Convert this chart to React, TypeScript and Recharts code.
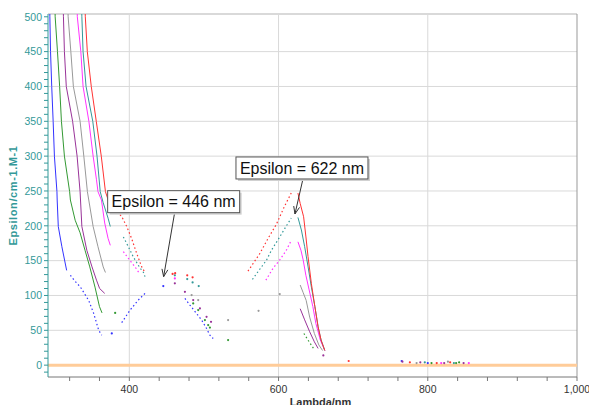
import React from 'react';
import { ComposedChart, Line, Scatter, XAxis, YAxis, ReferenceLine, ReferenceDot } from 'recharts';

type Pt = [number, number];

const FONT = '"Liberation Sans", Arial, sans-serif';
const TEAL_AXIS = '#339999';

// axis ticks
const xTicks = [320, 360, 400, 440, 480, 520, 560, 600, 640, 680, 720, 760, 800, 840, 880, 920, 960, 1000];
const xLabels = [400, 600, 800, 1000];
const yTicks = Array.from({ length: 52 }, (_, i) => -10 + i * 10);
const gridX = [400, 600, 800];
const gridY = [50, 100, 150, 200, 250, 300, 350, 400, 450];

// red
const redSolid: Pt[][] = [
  [[340, 540], [341, 500], [343.7, 450], [349, 400], [355.7, 350], [362.4, 300], [368, 249], [372, 236], [378, 226]],
  [[626, 247], [629, 232], [633.6, 213], [636.7, 184], [639.5, 156], [644, 117], [648.7, 84], [653, 55], [657, 36], [662, 21]],
];
const redDashed: Pt[][] = [
  [[387.5, 216], [390, 213], [396.5, 199], [403, 182], [410, 160], [416.6, 141], [421, 133]],
  [[559, 135], [566, 146], [574.8, 160], [586, 182], [597, 202], [608, 228], [617, 247]],
];
const redDots: Pt[] = [[458, 131], [461.4, 132], [477.6, 129], [484.8, 126], [694, 6], [776, 4], [812, 3], [830, 4]];

// teal
const tealSolid: Pt[][] = [
  [[335.5, 540], [336.4, 500], [338, 450], [342, 400], [351, 350], [356.7, 300], [361, 249], [365, 233], [371.5, 211], [374.5, 199]],
  [[626, 212], [630.6, 194], [635, 170], [639.6, 141], [644, 112], [648.7, 84], [653, 55], [657, 36], [662, 21]],
];
const tealDashed: Pt[][] = [
  [[392, 184], [398.7, 170], [405, 156], [414, 140], [419, 133], [421, 127]],
  [[565, 123], [571, 132], [584, 151], [590.5, 165], [601.6, 184], [610.5, 200], [617, 211]],
];
const tealDots: Pt[] = [[461, 129], [477.6, 123.6], [484.8, 118.8], [493, 113.5], [796, 4], [835, 3]];

// magenta
const magentaSolid: Pt[][] = [
  [[329.5, 540], [330.3, 500], [335, 450], [338, 400], [345.8, 350], [351.5, 300], [356, 266], [358, 249], [362.6, 237], [367, 204], [371.5, 182], [374.5, 172]],
  [[626, 177], [630, 165], [633, 151], [636.6, 129], [641, 108], [646, 84], [650, 60], [656, 36], [662, 21]],
];
const magentaDashed: Pt[][] = [
  [[392, 163], [401, 150], [407.7, 141], [414, 131]],
  [[583, 122], [592.6, 139], [601.6, 151], [610.5, 165], [617, 179]],
];
const magentaDots: Pt[] = [[461, 124.5], [818, 3], [855, 3]];

// gray
const graySolid: Pt[][] = [
  [[317, 540], [318, 500], [321.6, 450], [325, 400], [334, 350], [339, 300], [343.8, 249], [351.5, 199], [358, 170], [365, 141], [368, 133]],
  [[629, 115], [633, 104], [637, 93], [641.7, 69], [648, 45.5], [654, 29], [659, 21]],
];
const grayDots: Pt[] = [[483.5, 100.6], [492.3, 93.4], [532.4, 64.7], [573.2, 78], [601.6, 102], [785, 3], [827, 5]];

// purple
const purpleSolid: Pt[][] = [
  [[310.5, 540], [311.7, 500], [313, 450], [315.5, 400], [324, 350], [330, 300], [334, 249], [336.4, 199], [343, 165], [350, 141], [356, 122], [360.2, 110], [367, 103]],
  [[629, 81], [635, 65], [641.7, 48], [648, 33.5], [653, 24]],
];
const purpleDots: Pt[] = [[461, 117.4], [474.5, 105.3], [485.6, 93.4], [494.6, 81.4], [503.5, 69.4], [509.5, 62.2], [660, 14], [766, 5], [790, 4], [822, 3], [848, 3]];

// green
const greenSolid: Pt[][] = [
  [[300, 540], [300.6, 500], [303.7, 450], [306.6, 400], [309, 350], [313, 300], [320, 249], [321, 237], [327.4, 208], [334, 190], [340.6, 165], [347, 141], [354, 112], [360, 84], [363.4, 75]],
];
const greenDashed: Pt[][] = [[[634, 45.5], [639.5, 36], [644, 28.7], [648.4, 21.5]]];
const greenDots: Pt[] = [[381, 75], [485.6, 88.6], [492.3, 79], [501.3, 64.7], [505.7, 57.5], [508, 54], [532.4, 36], [805, 3], [838, 3], [842, 4]];

// blue
const blueSolid: Pt[][] = [
  [[293, 540], [293.5, 500], [294.4, 450], [296, 400], [297.9, 350], [299.6, 300], [303, 249], [303.3, 237], [304.8, 199], [309.6, 170], [316, 136]],
];
const blueDashed: Pt[][] = [
  [[321, 129], [326, 122], [334.5, 112], [345.5, 93], [352, 75], [359, 50], [363, 43]],
  [[389.8, 61], [401, 79], [412, 93.4], [421, 103]],
  [[474.5, 95.8], [481.2, 86.2], [490.2, 74], [496.9, 64.7], [503.5, 52.7], [508, 43], [512.4, 38.3]],
];
const blueDots: Pt[] = [[376.5, 45.5], [445.5, 113.5], [765, 6], [800, 3]];

const series = [
  { name: 'blue', color: '#3333ff', solid: blueSolid, dashed: blueDashed, dots: blueDots },
  { name: 'green', color: '#339933', solid: greenSolid, dashed: greenDashed, dots: greenDots },
  { name: 'purple', color: '#993399', solid: purpleSolid, dashed: [] as Pt[][], dots: purpleDots },
  { name: 'gray', color: '#999999', solid: graySolid, dashed: [] as Pt[][], dots: grayDots },
  { name: 'magenta', color: '#ff33ff', solid: magentaSolid, dashed: magentaDashed, dots: magentaDots },
  { name: 'teal', color: '#339999', solid: tealSolid, dashed: tealDashed, dots: tealDots },
  { name: 'red', color: '#ff3333', solid: redSolid, dashed: redDashed, dots: redDots },
];

const annotations = [
  { x: 446, y: 127, text: 'Epsilon = 446 nm', boxDx: 10, rise: 64 },
  { x: 622, y: 217, text: 'Epsilon = 622 nm', boxDx: 7, rise: 35 },
];

const rows = (pts: Pt[]) => pts.map(([x, y]) => ({ x, y }));

function Callout(props: any) {
  const { cx, cy, text, boxDx, rise } = props;
  const w = 132;
  const h = 22;
  const bx = cx + boxDx - w / 2;
  const by = cy - rise - h;
  const sx = cx + boxDx + 1;
  const sy = cy - rise;
  const ang = Math.atan2(cy - sy, cx - sx);
  const L = 8;
  const a = 0.38;
  const h1x = cx - L * Math.cos(ang - a);
  const h1y = cy - L * Math.sin(ang - a);
  const h2x = cx - L * Math.cos(ang + a);
  const h2y = cy - L * Math.sin(ang + a);
  return (
    <g>
      <line x1={sx} y1={sy} x2={cx} y2={cy} stroke="#333" strokeWidth={1} />
      <polyline points={`${h1x},${h1y} ${cx},${cy} ${h2x},${h2y}`} fill="none" stroke="#333" strokeWidth={1} />
      <rect x={bx + 2} y={by + 2} width={w} height={h} fill="#d0d0d0" />
      <rect x={bx} y={by} width={w} height={h} fill="#ffffff" stroke="#555" strokeWidth={1} />
      <text x={bx + w / 2} y={by + h / 2 + 5.6} textAnchor="middle" fontFamily={FONT} fontSize={16} fill="#111">
        {text}
      </text>
    </g>
  );
}

export default function App() {
  return (
    <div style={{ position: 'absolute', left: 0, top: 0, width: 589, height: 405, background: '#fff', overflow: 'hidden' }}>
      <ComposedChart width={589} height={405} margin={{ top: 14, right: 12, bottom: 8, left: 8 }}>
        <XAxis
          type="number"
          dataKey="x"
          domain={[291, 1000]}
          allowDataOverflow
          ticks={xTicks}
          interval={0}
          height={20}
          tickSize={4}
          tickMargin={5}
          tickFormatter={(v: number) => (xLabels.includes(v) ? v.toLocaleString('en-US') : '')}
          tick={{ fontSize: 10.5, fill: '#333', fontFamily: FONT }}
          axisLine={{ stroke: '#777' }}
          tickLine={{ stroke: '#777' }}
          label={{
            content: (p: any) => (
              <text x={p.viewBox.x + p.viewBox.width / 2 + 8} y={406} textAnchor="middle" fontFamily={FONT} fontSize={11} fontWeight="bold" fill="#333">
                Lambda/nm
              </text>
            ),
          }}
        />
        <YAxis
          type="number"
          dataKey="y"
          domain={[-17, 504]}
          allowDataOverflow
          ticks={yTicks}
          interval={0}
          width={40}
          tickSize={4}
          tickFormatter={(v: number) => (v % 50 === 0 ? String(v) : '')}
          tick={{ fontSize: 10.5, fill: TEAL_AXIS, fontFamily: FONT }}
          axisLine={{ stroke: TEAL_AXIS }}
          tickLine={{ stroke: TEAL_AXIS }}
          label={{
            content: (p: any) => {
              const x = p.viewBox.x + 5;
              const y = p.viewBox.y + p.viewBox.height / 2;
              return (
                <text x={x} y={y} transform={`rotate(-90, ${x}, ${y})`} textAnchor="middle" dominantBaseline="central" fontFamily={FONT} fontSize={11} fontWeight="bold" letterSpacing={0.6} fill={TEAL_AXIS}>
                  Epsilon/cm-1.M-1
                </text>
              );
            },
          }}
        />
        {gridY.map((v) => (
          <ReferenceLine key={`gy${v}`} y={v} stroke="#d9d9d9" />
        ))}
        {gridX.map((v) => (
          <ReferenceLine key={`gx${v}`} x={v} stroke="#d9d9d9" />
        ))}
        <ReferenceLine y={504} stroke="#d9d9d9" strokeWidth={2} />
        <ReferenceLine x={1000} stroke="#999" />
        <ReferenceLine y={0} stroke="#ffcc99" strokeWidth={3} />
        {series.map((s) =>
          s.solid.map((seg, i) => (
            <Line key={`${s.name}s${i}`} data={rows(seg)} dataKey="y" stroke={s.color} strokeWidth={1} dot={false} activeDot={false} isAnimationActive={false} />
          ))
        )}
        {series.map((s) =>
          s.dashed.map((seg, i) => (
            <Line key={`${s.name}d${i}`} data={rows(seg)} dataKey="y" stroke={s.color} strokeWidth={1.2} strokeDasharray="1.5 2.5" dot={false} activeDot={false} isAnimationActive={false} />
          ))
        )}
        {series.map((s) => (
          <Scatter
            key={`${s.name}p`}
            data={rows(s.dots)}
            fill={s.color}
            isAnimationActive={false}
            shape={(p: any) => <circle cx={p.cx} cy={p.cy} r={1.1} fill={s.color} />}
          />
        ))}
        {annotations.map((a) => (
          <ReferenceDot key={a.text} x={a.x} y={a.y} r={0} shape={(p: any) => <Callout {...p} text={a.text} boxDx={a.boxDx} rise={a.rise} />} />
        ))}
      </ComposedChart>
    </div>
  );
}
